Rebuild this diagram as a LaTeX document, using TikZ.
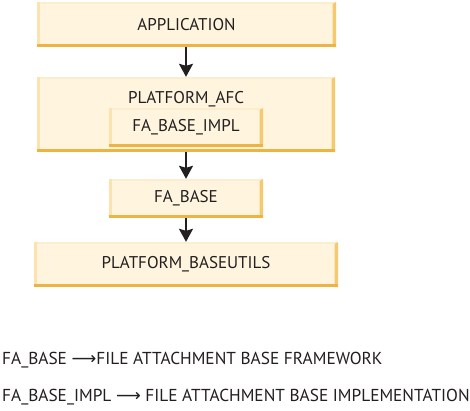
\documentclass[tikz,border=0pt]{standalone}
\usepackage{fontspec}
\setmainfont{PT Sans}
\newfontfamily\arrowfont{DejaVu Sans}
\usetikzlibrary{arrows.meta}
\definecolor{boxfill}{HTML}{FFF5DE}
\definecolor{bevleft}{HTML}{FCE2AE}
\definecolor{bevtop}{HTML}{FDEDCF}
\definecolor{bevright}{HTML}{F5C96E}
\definecolor{bevbottom}{HTML}{EEB443}
\definecolor{ink}{HTML}{231F20}
\tikzset{
  bevelbox/.style={rectangle, fill=boxfill, inner sep=0pt, font=\fontsize{17}{19}\selectfont, text=ink,
    path picture={
      \fill[bevtop] (path picture bounding box.north west) rectangle ([yshift=-2pt]path picture bounding box.north east);
      \fill[bevleft] (path picture bounding box.north west) rectangle ([xshift=3pt]path picture bounding box.south west);
      \fill[bevright] ([xshift=-3.5pt,yshift=-2pt]path picture bounding box.north east) -- ([yshift=0pt]path picture bounding box.north east) -- (path picture bounding box.south east) -- ([xshift=-3.5pt]path picture bounding box.south east) -- cycle;
      \fill[bevbottom] ([yshift=3.5pt]path picture bounding box.south west) rectangle (path picture bounding box.south east);
    }},
  flowarrow/.style={draw=ink, line width=1.8pt, -{Stealth[length=13pt,width=14pt,inset=2pt]}},
  legend/.style={anchor=base west, inner sep=0pt, font=\fontsize{17.3}{19}\selectfont, text=ink}
}
\begin{document}
\begin{tikzpicture}[x=1pt,y=-1pt]
\useasboundingbox[fill=white] (0,0) rectangle (470,410);
\node[bevelbox, minimum width=299pt, minimum height=45pt] (app) at (186.5,24.5) {APPLICATION};
\node[bevelbox, minimum width=298pt, minimum height=75pt] (afc) at (186,114.5) {};
\node[anchor=base, inner sep=0pt, font=\fontsize{17}{19}\selectfont, text=ink] (afclabel) at (186,103) {PLATFORM\_AFC};
\node[bevelbox, minimum width=154pt, minimum height=39pt] (impl) at (186,127.5) {FA\_BASE\_IMPL};
\node[bevelbox, minimum width=154pt, minimum height=39pt] (base) at (186,198.5) {FA\_BASE};
\node[bevelbox, minimum width=304pt, minimum height=45pt] (utils) at (186,264.5) {PLATFORM\_BASEUTILS};
\draw[flowarrow] (app.south -| impl.north) -- (afc.north -| impl.north);
\draw[flowarrow] (afc.south -| base.north) -- (base.north);
\draw[flowarrow] (base.south) -- (utils.north -| base.south);
\node[legend] (leg1) at (2,364) {FA\_BASE {\arrowfont ⟶}FILE ATTACHMENT BASE FRAMEWORK};
\node[legend] (leg2) at (2,401) {FA\_BASE\_IMPL {\arrowfont ⟶} FILE ATTACHMENT BASE IMPLEMENTATION};
\end{tikzpicture}
\end{document}
